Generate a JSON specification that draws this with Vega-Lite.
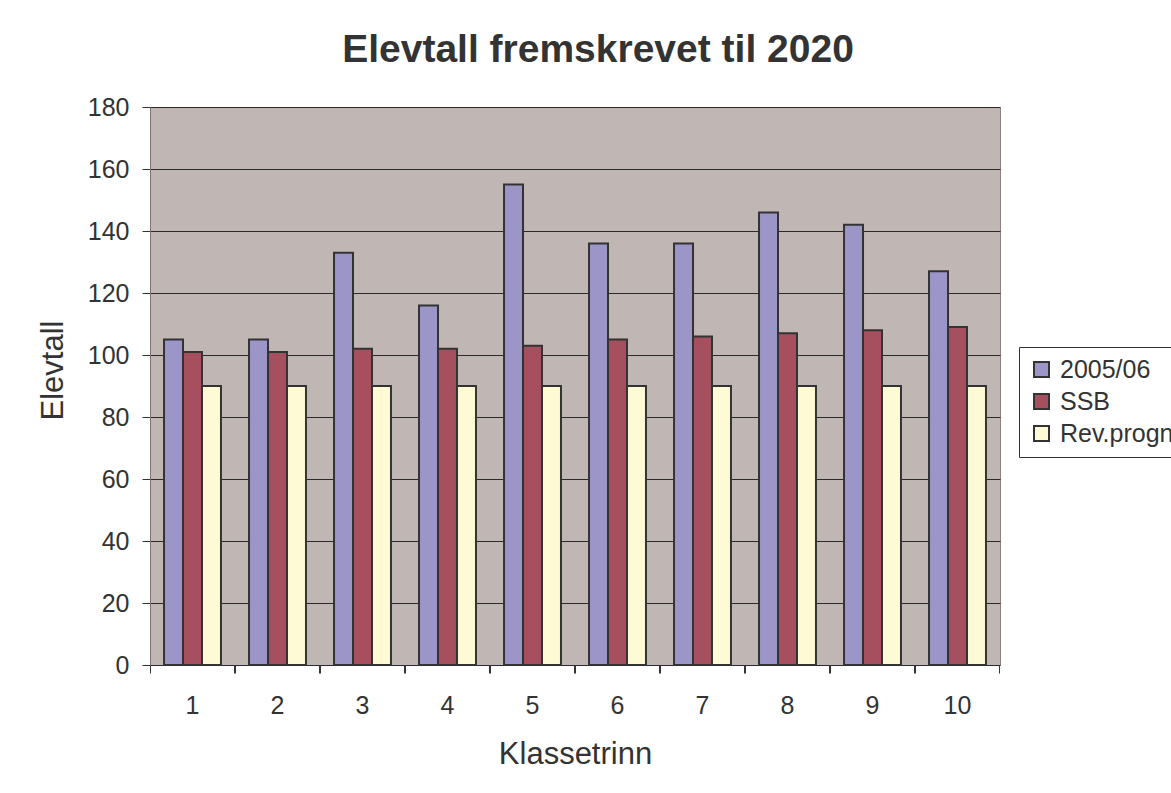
{
  "$schema": "https://vega.github.io/schema/vega-lite/v6.json",
  "width": 850,
  "height": 558,
  "autosize": {"type": "none"},
  "padding": {"left": 150, "top": 107, "right": 171, "bottom": 128},
  "background": "white",
  "title": {
    "text": "Elevtall fremskrevet til 2020",
    "font": "Liberation Sans",
    "fontSize": 39,
    "fontWeight": "bold",
    "color": "#333333",
    "anchor": "middle",
    "dx": 23,
    "offset": 25
  },
  "data": {
    "values": [
      {"trinn": "1", "serie": "2005/06", "elevtall": 105},
      {"trinn": "1", "serie": "SSB", "elevtall": 101},
      {"trinn": "1", "serie": "Rev.progn", "elevtall": 90},
      {"trinn": "2", "serie": "2005/06", "elevtall": 105},
      {"trinn": "2", "serie": "SSB", "elevtall": 101},
      {"trinn": "2", "serie": "Rev.progn", "elevtall": 90},
      {"trinn": "3", "serie": "2005/06", "elevtall": 133},
      {"trinn": "3", "serie": "SSB", "elevtall": 102},
      {"trinn": "3", "serie": "Rev.progn", "elevtall": 90},
      {"trinn": "4", "serie": "2005/06", "elevtall": 116},
      {"trinn": "4", "serie": "SSB", "elevtall": 102},
      {"trinn": "4", "serie": "Rev.progn", "elevtall": 90},
      {"trinn": "5", "serie": "2005/06", "elevtall": 155},
      {"trinn": "5", "serie": "SSB", "elevtall": 103},
      {"trinn": "5", "serie": "Rev.progn", "elevtall": 90},
      {"trinn": "6", "serie": "2005/06", "elevtall": 136},
      {"trinn": "6", "serie": "SSB", "elevtall": 105},
      {"trinn": "6", "serie": "Rev.progn", "elevtall": 90},
      {"trinn": "7", "serie": "2005/06", "elevtall": 136},
      {"trinn": "7", "serie": "SSB", "elevtall": 106},
      {"trinn": "7", "serie": "Rev.progn", "elevtall": 90},
      {"trinn": "8", "serie": "2005/06", "elevtall": 146},
      {"trinn": "8", "serie": "SSB", "elevtall": 107},
      {"trinn": "8", "serie": "Rev.progn", "elevtall": 90},
      {"trinn": "9", "serie": "2005/06", "elevtall": 142},
      {"trinn": "9", "serie": "SSB", "elevtall": 108},
      {"trinn": "9", "serie": "Rev.progn", "elevtall": 90},
      {"trinn": "10", "serie": "2005/06", "elevtall": 127},
      {"trinn": "10", "serie": "SSB", "elevtall": 109},
      {"trinn": "10", "serie": "Rev.progn", "elevtall": 90}
    ]
  },
  "encoding": {
    "xOffset": {
      "field": "serie",
      "sort": ["2005/06", "SSB", "Rev.progn"]
    },
    "y": {
      "field": "elevtall",
      "type": "quantitative",
      "scale": {"domain": [0, 180], "nice": false},
      "axis": {
        "title": "Elevtall",
        "values": [0,20,40,60,80,100,120,140,160,180],
        "grid": true,
        "gridColor": "#2a2a2a",
        "gridWidth": 1,
        "tickSize": 8,
        "tickColor": "#333333",
        "domainColor": "#7d7371",
        "labelPadding": 13,
        "labelFontSize": 25,
        "labelFont": "Liberation Sans",
        "labelColor": "#333333",
        "titleFont": "Liberation Sans",
        "titleFontSize": 31,
        "titleFontWeight": "normal",
        "titleColor": "#333333",
        "titleX": -88,
        "titleY": 263,
        "titleAlign": "center",
        "titleBaseline": "alphabetic",
        "titleAngle": -90
      }
    },
    "color": {
      "field": "serie",
      "type": "nominal",
      "sort": ["2005/06", "SSB", "Rev.progn"],
      "scale": {
        "domain": ["2005/06", "SSB", "Rev.progn"],
        "range": ["#9c96c8", "#a6505f", "#fffad6"]
      },
      "legend": {
        "title": null,
        "orient": "none",
        "legendX": 869,
        "legendY": 240,
        "strokeColor": "#333333",
        "fillColor": "white",
        "padding": 10,
        "symbolType": "square",
        "symbolSize": 225,
        "symbolStrokeColor": "#333333",
        "symbolStrokeWidth": 2,
        "labelFont": "Liberation Sans",
        "labelFontSize": 25,
        "labelColor": "#333333",
        "labelOffset": 6,
        "rowPadding": 6
      }
    }
  },
  "layer": [
    {
      "mark": {"type": "bar", "stroke": "#333333", "strokeWidth": 2},
      "encoding": {
        "x": {
          "field": "trinn",
          "type": "ordinal",
          "sort": ["1","2","3","4","5","6","7","8","9","10"],
          "scale": {"paddingInner": 0.33, "paddingOuter": 0.165},
          "axis": {
            "title": "Klassetrinn",
            "orient": "bottom",
            "labelAngle": 0,
            "bandPosition": -0.2456,
            "tickSize": 8,
            "tickColor": "#333333",
            "domain": false,
            "labelBaseline": "alphabetic",
            "labelPadding": 40,
            "labelFontSize": 25,
            "labelFont": "Liberation Sans",
            "labelColor": "#333333",
            "titleFont": "Liberation Sans",
            "titleFontSize": 31,
            "titleFontWeight": "normal",
            "titleColor": "#333333",
            "titleX": 425,
            "titleY": 98,
            "titleAlign": "center",
            "titleBaseline": "alphabetic"
          }
        }
      }
    },
    {
      "mark": {"type": "bar", "opacity": 0},
      "encoding": {
        "x": {
          "field": "trinn",
          "type": "ordinal",
          "sort": ["1","2","3","4","5","6","7","8","9","10"],
          "axis": {
            "title": null,
            "orient": "bottom",
            "labels": false,
            "bandPosition": 1.2456,
            "tickSize": 8,
            "tickColor": "#333333",
            "domain": false,
            "grid": false
          }
        }
      }
    }
  ],
  "resolve": {"axis": {"x": "independent"}},
  "config": {
    "view": {"fill": "#c0b7b5", "stroke": "#8a807e", "strokeWidth": 1},
    "axis": {"gridOpacity": 1}
  }
}
